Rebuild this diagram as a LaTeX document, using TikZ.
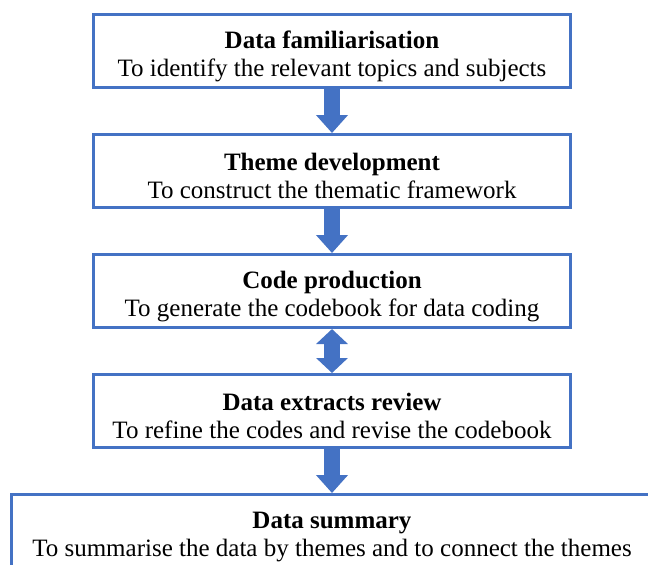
\documentclass[tikz,border=0pt]{standalone}
\usepackage{fontspec}
\setmainfont{Liberation Serif}
\usepackage{xcolor}
\usepackage{tikz}
\usetikzlibrary{arrows.meta,positioning}
\definecolor{stageblue}{HTML}{4472C4}

\begin{document}
\begin{tikzpicture}[
  font=\fontsize{12.5}{14}\selectfont,
  every node/.style={align=center},
  stage/.style={
    draw=stageblue, fill=white,
    inner xsep=3pt, inner ysep=1pt, minimum height=36.5pt, minimum width=238.5pt,
    line width=1.5pt,
    execute at begin node={\rule{0pt}{28pt}}
  },
  wide/.style={stage, minimum width=320.5pt},
  flow/.style={-{Triangle[length=9pt,width=15.5pt]}, line width=8pt, stageblue},
  twoway/.style={{Triangle[length=7.5pt,width=15.5pt]}-{Triangle[length=7.5pt,width=15.5pt]}, line width=8pt, stageblue}
]
\path[use as bounding box, clip] (0,0) rectangle (324pt,-282pt);

\node[stage] (familiar) at (166pt,-25.5pt) {\textbf{Data familiarisation}\\To identify the relevant topics and subjects};
\node[stage, below=22pt of familiar] (theme) {\textbf{Theme development}\\To construct the thematic framework};
\node[stage, below=22pt of theme] (code) {\textbf{Code production}\\To generate the codebook for data coding};
\node[stage, below=22pt of code] (review) {\textbf{Data extracts review}\\To refine the codes and revise the codebook};
\node[wide, below=22pt of review] (summary) {\textbf{Data summary}\\To summarise the data by themes and to connect the themes};

\draw[flow] (familiar) -- (theme);
\draw[flow] (theme) -- (code);
\draw[twoway] (code) -- (review);
\draw[flow] (review) -- (summary);

\end{tikzpicture}
\end{document}
